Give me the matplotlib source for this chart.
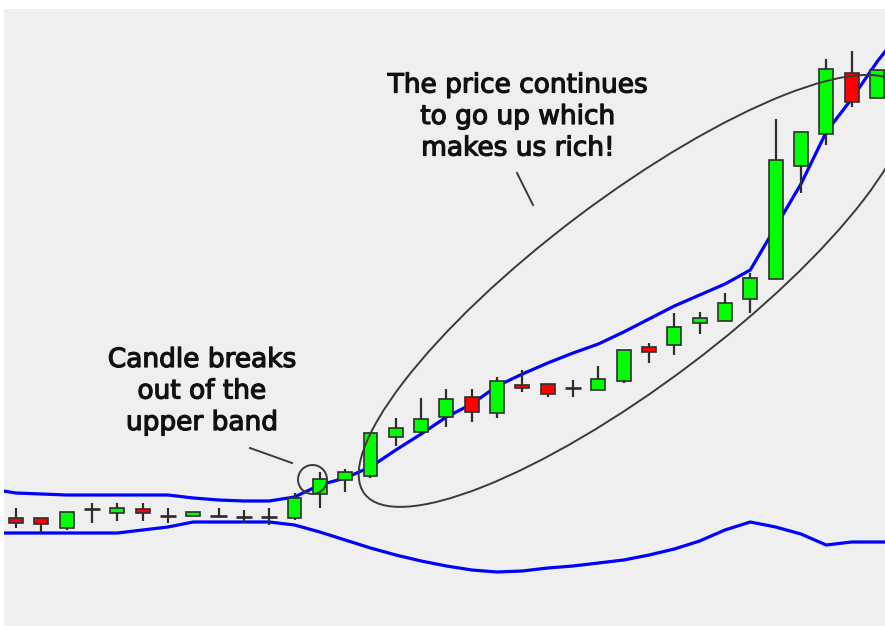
import numpy as np
import matplotlib
matplotlib.use("Agg")
import matplotlib.pyplot as plt
import matplotlib.patheffects as pe
from matplotlib.patches import Ellipse, Circle
from matplotlib.transforms import IdentityTransform

W, H = 885, 626

# ---- candle data (price units) ----
opens  = [108, 108,  98, 117, 113, 117, 110, 110, 110, 109, 109, 108, 132, 146, 150, 189, 194, 209,
          229, 213, 241, 242, 238, 236, 245, 279, 281, 303, 305, 327, 347, 460, 492, 553, 528]
highs  = [118, 108, 114, 123, 123, 123, 118, 114, 118, 116, 118, 133, 154, 157, 194, 208, 228, 237,
          237, 249, 256, 242, 246, 260, 276, 283, 313, 314, 333, 353, 507, 494, 567, 575, 556]
lows   = [ 98,  93,  96, 103, 105, 105, 103, 110, 109, 103, 101, 106, 118, 134, 148, 180, 193, 199,
          204, 208, 234, 229, 229, 236, 243, 263, 271, 292, 305, 313, 347, 433, 481, 519, 528]
closes = [103, 102, 114, 117, 118, 113, 110, 114, 110, 109, 109, 128, 147, 154, 193, 198, 207, 227,
          214, 245, 238, 232, 238, 247, 276, 274, 299, 308, 323, 348, 466, 494, 557, 524, 556]

# ---- Bollinger bands, one value per candle slot (slot -1 .. 35) ----
band_index = list(range(-1, 36))
upper_band = [137, 133, 132, 131, 131, 131, 131, 131, 128, 126, 125, 125, 129, 141, 148, 159, 176, 192,
              209, 222, 240, 252, 263, 273, 282, 294, 307, 320, 331, 342, 356, 399, 442, 494, 527, 564, 596]
lower_band = [93, 93, 93, 93, 93, 93, 96, 99, 104, 104, 104, 104, 101, 94, 86, 78, 71, 65,
              60, 56, 54, 55, 58, 60, 63, 66, 71, 77, 85, 96, 104, 99, 92, 81, 84, 84, 84]

note_breakout = ["Candle breaks", "out of the", "upper band"]
note_trend = ["The price continues", "to go up which", "makes us rich!"]

UP, DOWN, DOJI = "#00ff00", "#ff0000", "#2a2a2a"
EDGE = "#2e2e2e"
BAND = "#0000ff"
INK = "#3a3a3a"

fig = plt.figure(figsize=(W / 100, H / 100), dpi=100, facecolor="white")
ax = fig.add_axes([4 / W, 0, (W - 4) / W, (H - 9) / H])
ax.set_facecolor("#efefef")
ax.set_xlim(-0.474, 34.32)
ax.set_ylim(0, 617)
ax.set_xticks([])
ax.set_yticks([])
for s in ax.spines.values():
    s.set_visible(False)

o = np.array(opens, float)
h = np.array(highs, float)
l = np.array(lows, float)
c = np.array(closes, float)
x = np.arange(len(o))

# bands
ax.plot(band_index, upper_band, color=BAND, lw=2.3, zorder=2, solid_capstyle="round")
ax.plot(band_index, lower_band, color=BAND, lw=2.3, zorder=2, solid_capstyle="round")

# wicks
ax.vlines(x, l, h, color=EDGE, lw=1.6, zorder=3)

# bodies
body_bottom = np.minimum(o, c)
body_h = np.abs(c - o)
mask = body_h > 0
cols = np.where(c > o, UP, DOWN)
ax.bar(x[mask], body_h[mask], bottom=body_bottom[mask], width=0.55,
       color=cols[mask], edgecolor=EDGE, lw=1.2, zorder=4)
# doji crosses
ax.hlines(o[~mask], x[~mask] - 0.32, x[~mask] + 0.32, color=DOJI, lw=1.9, zorder=4)

# ---- annotations (figure pixel space) ----
ident = IdentityTransform()
ell = Ellipse((633.6, H - 290.9), 674, 186, angle=37, transform=ident,
              fill=False, ec=INK, lw=1.4, zorder=6)
ax.add_patch(ell)
circ = Circle((312.5, H - 479.5), 14.5, transform=ident, fill=False,
              ec=INK, lw=1.4, zorder=6)
ax.add_patch(circ)

ax.plot([250, 292], [H - 448, H - 463], transform=ident, color=INK, lw=1.4, zorder=6)
ax.plot([517, 533], [H - 173, H - 205], transform=ident, color=INK, lw=1.4, zorder=6)

heavy = [pe.withStroke(linewidth=0.9, foreground="#111111")]
for txt, base in zip(note_breakout, [367, 398.5, 430]):
    fig.text(202 / W, (H - base) / H, txt, ha="center", va="baseline",
             fontsize=19, color="#111111", family="DejaVu Sans", path_effects=heavy)
for txt, base in zip(note_trend, [92.5, 124, 155.5]):
    fig.text(518 / W, (H - base) / H, txt, ha="center", va="baseline",
             fontsize=19, color="#111111", family="DejaVu Sans", path_effects=heavy)

fig.savefig("out.png", dpi=100, facecolor="white")
